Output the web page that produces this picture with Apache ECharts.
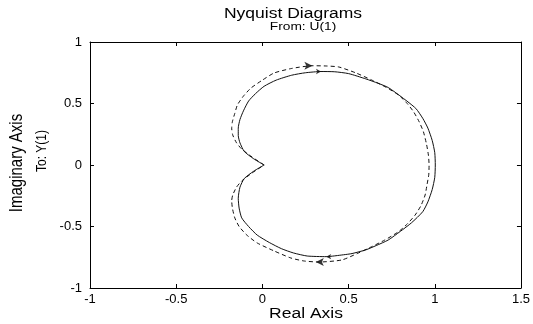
<!DOCTYPE html>
<html>
<head>
<meta charset="utf-8">
<script src="https://cdn.jsdelivr.net/npm/echarts@6/dist/echarts.min.js"></script>
<style>
html,body{margin:0;padding:0;background:#fff;}
#c{width:533px;height:324px;}
</style>
</head>
<body>
<div id="c"></div>
<script>
// Axis ticks
var xTicks = [-1, -0.5, 0, 0.5, 1, 1.5];
var yTicks = [-1, -0.5, 0, 0.5, 1];

// Solid Nyquist curve, [real, imag]
var solidCurve = [
  [0.01,0], [-0.05,0.05], [-0.105,0.11], [-0.13,0.18], [-0.14,0.24], [-0.14,0.30],
  [-0.13,0.37], [-0.11,0.44], [-0.08,0.52], [-0.04,0.58], [0.01,0.64], [0.08,0.69],
  [0.17,0.73], [0.25,0.75], [0.34,0.76], [0.42,0.758], [0.50,0.743], [0.60,0.70],
  [0.67,0.665], [0.73,0.63], [0.81,0.55], [0.89,0.46], [0.93,0.38], [0.96,0.30],
  [0.985,0.20], [1.0,0.10], [1.003,0],
  [1.0,-0.10], [0.985,-0.20], [0.96,-0.30], [0.93,-0.38], [0.865,-0.47], [0.80,-0.54],
  [0.73,-0.61], [0.66,-0.655], [0.60,-0.69], [0.52,-0.72], [0.47,-0.73], [0.37,-0.745],
  [0.26,-0.74], [0.18,-0.715], [0.11,-0.68], [0.04,-0.63], [-0.03,-0.57], [-0.08,-0.50],
  [-0.12,-0.43], [-0.135,-0.35], [-0.14,-0.27], [-0.13,-0.18], [-0.105,-0.11],
  [-0.05,-0.05], [0.01,0]
];

// Dashed Nyquist curve, [real, imag]
var dashedCurve = [
  [0.01,0], [-0.06,0.065], [-0.12,0.13], [-0.15,0.18], [-0.172,0.244], [-0.178,0.30],
  [-0.174,0.352], [-0.16,0.42], [-0.145,0.488], [-0.11,0.56], [-0.066,0.626], [0.0,0.69],
  [0.068,0.748], [0.17,0.785], [0.288,0.807], [0.37,0.805], [0.443,0.797], [0.54,0.75],
  [0.634,0.691], [0.72,0.63], [0.79,0.569], [0.84,0.50], [0.877,0.433], [0.91,0.35],
  [0.934,0.271], [0.952,0.17], [0.963,0.081], [0.967,0],
  [0.965,-0.08], [0.955,-0.16], [0.944,-0.244], [0.92,-0.33], [0.886,-0.407], [0.84,-0.48],
  [0.79,-0.542], [0.71,-0.61], [0.634,-0.664], [0.55,-0.72], [0.461,-0.772], [0.328,-0.789],
  [0.24,-0.78], [0.165,-0.756], [0.07,-0.70], [-0.03,-0.634], [-0.09,-0.57], [-0.134,-0.502],
  [-0.16,-0.43], [-0.174,-0.35], [-0.178,-0.29], [-0.172,-0.244], [-0.15,-0.18],
  [-0.12,-0.13], [-0.06,-0.065], [0.01,0]
];

// Direction arrows: [real, imag, rotation]
var dashedArrows = [[0.29,0.807,-90],[0.31,-0.789,90]];
var solidArrows = [[0.34,0.76,-90],[0.37,-0.745,90]];

var FONT = '"Liberation Sans", Arial, sans-serif';
var chart = echarts.init(document.getElementById('c'), null, {renderer:'canvas'});

function axisCommon(show){
  return {
    axisLine:{show:true, onZero:false, lineStyle:{color:'#000', width:1}},
    axisTick:{show:true, inside:true, length:4, lineStyle:{color:'#000'}},
    splitLine:{show:false},
    axisLabel:{show:show, color:'#000', fontFamily:FONT, fontSize:13}
  };
}

var xMin = xTicks[0], xMax = xTicks[xTicks.length-1];
var yMin = yTicks[0], yMax = yTicks[yTicks.length-1];

chart.setOption({
  animation:false,
  backgroundColor:'#fff',
  grid:{left:90, right:10, top:42, bottom:36, containLabel:false},
  xAxis:[
    Object.assign({type:'value', min:xMin, max:xMax, interval:0.5, position:'bottom'}, axisCommon(true),
      {axisLabel:{show:true,color:'#000',fontFamily:FONT,fontSize:13,margin:5}}),
    Object.assign({type:'value', min:xMin, max:xMax, interval:0.5, position:'top'}, axisCommon(false))
  ],
  yAxis:[
    Object.assign({type:'value', min:yMin, max:yMax, interval:0.5, position:'left'}, axisCommon(true),
      {axisLabel:{show:true,color:'#000',fontFamily:FONT,fontSize:13,margin:8}}),
    Object.assign({type:'value', min:yMin, max:yMax, interval:0.5, position:'right'}, axisCommon(false))
  ],
  graphic:[
    {type:'text', x:293, y:14, scaleX:1.25,
      style:{text:'Nyquist Diagrams', font:'14px '+FONT, fill:'#000', textAlign:'center', textVerticalAlign:'middle'}},
    {type:'text', x:303, y:27, scaleX:1.25,
      style:{text:'From: U(1)', font:'11px '+FONT, fill:'#000', textAlign:'center', textVerticalAlign:'middle'}},
    {type:'text', x:306, y:314, scaleX:1.25,
      style:{text:'Real Axis', font:'14px '+FONT, fill:'#000', textAlign:'center', textVerticalAlign:'middle'}},
    {type:'text', x:17, y:163, rotation:Math.PI/2, scaleY:1.2,
      style:{text:'Imaginary Axis', font:'15px '+FONT, fill:'#000', textAlign:'center', textVerticalAlign:'middle'}},
    {type:'text', x:42, y:151, rotation:Math.PI/2, scaleY:1.2,
      style:{text:'To: Y(1)', font:'12px '+FONT, fill:'#000', textAlign:'center', textVerticalAlign:'middle'}}
  ],
  series:[
    {type:'line', data:solidCurve, showSymbol:false, smooth:0.2, lineStyle:{color:'#111', width:1}, silent:true},
    {type:'line', data:dashedCurve, showSymbol:false, smooth:0.2, lineStyle:{color:'#111', width:1, type:[4,3]}, silent:true},
    {type:'scatter', data:dashedArrows.map(function(a){return {value:[a[0],a[1]], symbolRotate:a[2]};}),
      symbol:'arrow', symbolSize:[6,8], itemStyle:{color:'#000'}, silent:true},
    {type:'scatter', data:solidArrows.map(function(a){return {value:[a[0],a[1]], symbolRotate:a[2]};}),
      symbol:'arrow', symbolSize:[4,5], itemStyle:{color:'#000'}, silent:true}
  ]
});
</script>
</body>
</html>
